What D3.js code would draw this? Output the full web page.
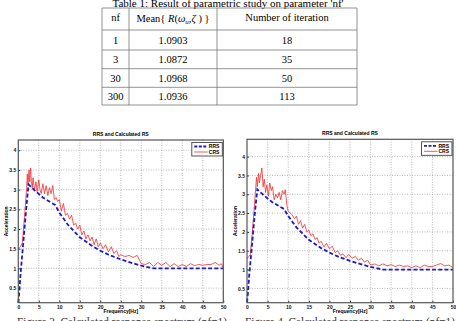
<!DOCTYPE html>
<html>
<head>
<meta charset="utf-8">
<script src="https://cdn.jsdelivr.net/npm/d3@7"></script>
<style>
  body { margin: 0; background: #fff; }
  svg { display: block; }
</style>
</head>
<body>
<svg id="page" width="456" height="321"></svg>
<script>
// table data
const tableHead = ["nf", "Mean{ R(ω_u, ζ) }", "Number of iteration"];
const nfValues = ["1", "3", "30", "300"];
const meanValues = ["1.0903", "1.0872", "1.0968", "1.0936"];
const iterValues = ["18", "35", "50", "113"];

// chart data [frequency Hz, acceleration]
const rrs = [[0, 0.13], [0.25, 0.4], [0.5, 0.8], [0.75, 1.1], [1, 1.4], [1.5, 2.0], [2, 2.6], [2.5, 3.13],
  [4, 2.98], [6, 2.8], [8, 2.67], [9, 2.61], [10, 2.42], [12, 2.12], [15, 1.79], [18, 1.57], [20, 1.45],
  [22, 1.35], [25, 1.23], [28, 1.13], [30, 1.07], [33, 1.0], [40, 1.0], [50, 1.0]];

const crsLeft = [[0, 1.48], [0.5, 1.55], [1, 1.65], [1.5, 2.3], [2, 3.0], [2.2, 3.4], [2.4, 3.1], [2.6, 3.5],
  [2.8, 3.2], [3, 3.55], [3.2, 3.2], [3.4, 3.05], [3.6, 3.3], [3.8, 3.1], [4, 3.0], [4.3, 3.2], [4.6, 2.95],
  [5, 3.25], [5.3, 3.0], [5.6, 2.9], [6, 3.15], [6.4, 2.9], [6.8, 3.1], [7.2, 2.85], [7.6, 3.05], [8, 2.9],
  [8.4, 3.1], [8.8, 2.75], [9.2, 2.8], [9.6, 2.7], [10, 2.75], [10.5, 2.45], [11, 2.65], [11.5, 2.35],
  [12, 2.4], [12.5, 2.25], [13, 2.35], [13.5, 2.1], [14, 2.15], [14.5, 2.0], [15, 2.1], [15.5, 1.85],
  [16, 1.95], [16.5, 1.75], [17, 1.85], [17.5, 1.7], [18, 1.8], [18.5, 1.6], [19, 1.75], [19.5, 1.55],
  [20, 1.65], [20.7, 1.5], [21.3, 1.6], [22, 1.42], [22.7, 1.55], [23.3, 1.38], [24, 1.45], [24.5, 1.3],
  [25, 1.35], [26, 1.3], [27, 1.33], [28, 1.28], [29, 1.33], [30, 1.12], [31, 1.1], [32, 1.15], [33, 1.05],
  [34, 1.15], [35, 1.08], [36, 1.15], [37, 1.05], [38, 1.12], [39, 1.05], [40, 1.1], [41, 1.05], [42, 1.12],
  [43, 1.07], [44, 1.1], [45, 1.08], [46, 1.1], [47, 1.1], [48, 1.15], [49, 1.08], [49.5, 1.12], [50, 1.02]];

const crsRight = [[0, 1.3], [0.5, 1.35], [0.8, 1.4], [1.3, 2.0], [2, 3.0], [2.3, 3.45], [2.5, 3.2], [2.8, 3.55],
  [3, 3.3], [3.3, 3.5], [3.6, 3.7], [3.9, 3.2], [4.2, 3.4], [4.5, 3.05], [4.8, 3.25], [5.2, 2.95], [5.5, 3.3],
  [5.9, 3.1], [6.2, 3.2], [6.6, 2.85], [7, 3.0], [7.4, 2.9], [7.8, 3.05], [8.2, 2.85], [8.6, 3.1], [9, 3.0],
  [9.3, 3.12], [9.7, 2.7], [10, 2.55], [10.5, 2.5], [11, 2.45], [11.5, 2.35], [12, 2.42], [12.5, 2.2],
  [13, 2.3], [13.5, 2.1], [14, 2.2], [14.5, 2.0], [15, 2.05], [15.5, 1.9], [16, 1.95], [16.5, 1.8],
  [17, 1.85], [17.5, 1.7], [18, 1.75], [18.7, 1.6], [19.3, 1.7], [20, 1.55], [20.7, 1.62], [21.4, 1.45],
  [22, 1.5], [22.7, 1.38], [23.3, 1.42], [24, 1.32], [24.7, 1.4], [25.5, 1.3], [26.3, 1.35], [27, 1.25],
  [27.8, 1.3], [28.5, 1.2], [29.3, 1.25], [30, 1.12], [31, 1.15], [32, 1.1], [33, 1.15], [34, 1.1],
  [35, 1.13], [36, 1.08], [37, 1.12], [38, 1.08], [39, 1.1], [40, 1.05], [41, 1.1], [42, 1.05], [43, 1.12],
  [44, 1.08], [45, 1.08], [46, 1.12], [47, 1.16], [48, 1.1], [49, 1.12], [50, 1.05]];

const xTicks = d3.range(0, 51, 5);
const yTicks = [0.5, 1, 1.5, 2, 2.5, 3, 3.5, 4];

const svg = d3.select("#page");

// ---- table ----
svg.append("text").attr("x", 228).attr("y", 7)
  .attr("text-anchor", "middle")
  .style("font", "11px 'Liberation Serif'")
  .text("Table 1: Result of parametric study on parameter 'nf'");

const colEdges = [102, 129, 217, 357];
const rowEdges = [8, 30, 50, 68.7, 87.3, 105];
const tbl = svg.append("g");
rowEdges.forEach(y => tbl.append("line").attr("x1", colEdges[0]).attr("x2", colEdges[3])
  .attr("y1", y).attr("y2", y).attr("stroke", "#777").attr("stroke-width", 0.8));
colEdges.forEach(x => tbl.append("line").attr("x1", x).attr("x2", x)
  .attr("y1", rowEdges[0]).attr("y2", rowEdges[5]).attr("stroke", "#777").attr("stroke-width", 0.8));

const rows = nfValues.map((nf, i) => [nf, meanValues[i], iterValues[i]]);
const cellFont = "10.5px 'Liberation Serif'";
rows.forEach((r, i) => {
  r.forEach((v, j) => {
    tbl.append("text")
      .attr("x", (colEdges[j] + colEdges[j + 1]) / 2)
      .attr("y", (rowEdges[i + 1] + rowEdges[i + 2]) / 2 + 3.5)
      .attr("text-anchor", "middle")
      .style("font", cellFont)
      .text(v);
  });
});
// header
tbl.append("text").attr("x", 115.5).attr("y", 21).attr("text-anchor", "middle").style("font", cellFont).text(tableHead[0]);
tbl.append("text").attr("x", 287).attr("y", 21).attr("text-anchor", "middle").style("font", cellFont).text(tableHead[2]);
const mh = tbl.append("text").attr("x", 173).attr("y", 22).attr("text-anchor", "middle").style("font", cellFont);
mh.append("tspan").text("Mean{ ");
mh.append("tspan").style("font-style", "italic").text("R");
mh.append("tspan").text("(");
mh.append("tspan").style("font-style", "italic").text("ω");
mh.append("tspan").attr("dy", 2).style("font-size", "7px").style("font-style", "italic").text("u");
mh.append("tspan").attr("dy", -2).text(",");
mh.append("tspan").style("font-style", "italic").text("ζ");
mh.append("tspan").text(" ) }");

// ---- charts ----
function drawChart(cfg) {
  const g = svg.append("g");
  const x = d3.scaleLinear().domain([0, 50]).range([cfg.left, cfg.right]);
  const y = d3.scaleLinear().domain(cfg.yDomain).range([cfg.bottom, cfg.top]);

  g.append("rect").attr("x", cfg.left).attr("y", cfg.top)
    .attr("width", cfg.right - cfg.left).attr("height", cfg.bottom - cfg.top).attr("fill", "#fff");

  // grid
  g.selectAll(".gx").data(xTicks.slice(1, -1)).enter().append("line")
    .attr("x1", d => x(d)).attr("x2", d => x(d)).attr("y1", cfg.top).attr("y2", cfg.bottom)
    .attr("stroke", "#9a9a9a").attr("stroke-width", 0.7).attr("stroke-dasharray", "1,1.5");
  g.selectAll(".gy").data(yTicks).enter().append("line")
    .attr("x1", cfg.left).attr("x2", cfg.right).attr("y1", d => y(d)).attr("y2", d => y(d))
    .attr("stroke", "#9a9a9a").attr("stroke-width", 0.7).attr("stroke-dasharray", "1,1.5");

  const line = d3.line().x(d => x(d[0])).y(d => y(d[1]));
  g.append("path").datum(cfg.crs).attr("d", line).attr("fill", "none")
    .attr("stroke", "#ee3030").attr("stroke-width", 0.8);
  g.append("path").datum(rrs).attr("d", line).attr("fill", "none")
    .attr("stroke", "#1a1ad0").attr("stroke-width", 1.8).attr("stroke-dasharray", "4,2.2");

  // axes (ticks inward like matlab)
  const fmt = d => d3.format("~g")(d);
  const xa = g.append("g").attr("transform", `translate(0,${cfg.bottom})`)
    .call(d3.axisBottom(x).tickValues(xTicks).tickSize(-2).tickPadding(3).tickFormat(fmt));
  const ya = g.append("g").attr("transform", `translate(${cfg.left},0)`)
    .call(d3.axisLeft(y).tickValues(yTicks).tickSize(-2).tickPadding(2).tickFormat(fmt));
  [xa, ya].forEach(a => {
    a.select(".domain").remove();
    a.selectAll("line").attr("stroke", "#333");
    a.selectAll("text").style("font", "bold 5px Arial, 'Liberation Sans'").attr("fill", "#111");
  });

  g.append("rect").attr("x", cfg.left).attr("y", cfg.top)
    .attr("width", cfg.right - cfg.left).attr("height", cfg.bottom - cfg.top)
    .attr("fill", "none").attr("stroke", "#555").attr("stroke-width", 1.2);

  g.append("text").attr("x", (cfg.left + cfg.right) / 2).attr("y", cfg.top - 4)
    .attr("text-anchor", "middle").style("font", "bold 5px 'Liberation Sans'").text("RRS and Calculated RS");
  g.append("text").attr("x", (cfg.left + cfg.right) / 2).attr("y", cfg.bottom + 10.5)
    .attr("text-anchor", "middle").style("font", "bold 5px 'Liberation Sans'").text("Frequency[Hz]");
  g.append("text").attr("transform", `translate(${cfg.left - 10.5},${(cfg.top + cfg.bottom) / 2}) rotate(-90)`)
    .attr("text-anchor", "middle").style("font", "bold 5px 'Liberation Sans'").text("Acceleration");

  // legend
  const lg = g.append("g").attr("transform", `translate(${cfg.right - 31.5},${cfg.top + 2.5})`);
  lg.append("rect").attr("width", 30.5).attr("height", 13.5).attr("fill", "#fff")
    .attr("stroke", "#444").attr("stroke-width", 0.9);
  lg.append("line").attr("x1", 2.5).attr("x2", 16).attr("y1", 4).attr("y2", 4)
    .attr("stroke", "#1a1ad0").attr("stroke-width", 1.8).attr("stroke-dasharray", "3,1.5");
  lg.append("line").attr("x1", 2.5).attr("x2", 16).attr("y1", 9.5).attr("y2", 9.5)
    .attr("stroke", "#ee3030").attr("stroke-width", 0.8);
  lg.append("text").attr("x", 17).attr("y", 5.8).style("font", "bold 5px 'Liberation Sans'").text("RRS");
  lg.append("text").attr("x", 17).attr("y", 11.3).style("font", "bold 5px 'Liberation Sans'").text("CRS");

  svg.append("text").attr("x", cfg.capX).attr("y", 326)
    .attr("textLength", 210).attr("lengthAdjust", "spacingAndGlyphs")
    .style("font", "12px 'Liberation Serif'").attr("fill", "#333").text(cfg.caption);
}

drawChart({ left: 18.3, right: 223.3, top: 140, bottom: 302.7, yDomain: [0.13, 4.26], crs: crsLeft,
  capX: 17, caption: "Figure 3. Calculated response spectrum (nf=1)" });
drawChart({ left: 247, right: 453, top: 139.3, bottom: 302.7, yDomain: [0.12, 4.46], crs: crsRight,
  capX: 245, caption: "Figure 4. Calculated response spectrum (nf=1)" });
</script>
</body>
</html>
